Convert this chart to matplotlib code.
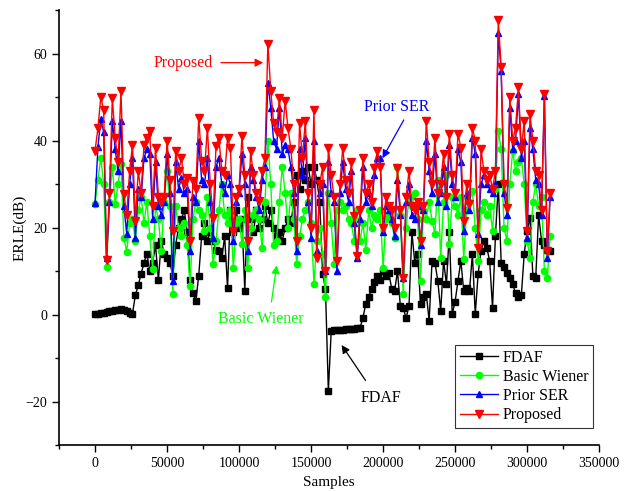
import numpy as np
import matplotlib
matplotlib.use('Agg')
from matplotlib import pyplot as plt
from matplotlib.ticker import MultipleLocator

# sample positions (one value every 2000 samples)
samples = np.arange(0, 318000, 2000)

fdaf = [0.2, 0.3, 0.4, 0.5, 0.6, 0.8, 0.9, 1.0, 1.2, 1.4,
        1.2, 0.8, 0.4, 0.3, 4.5, 6.8, 9.4, 12, 14, 10,
        12, 16, 8, 17, 14, 13, 12, 9, 16, 20,
        22, 24, 19, 8, 5, 3.2, 9, 18, 21, 17,
        19, 17, 15, 14.7, 13, 18, 6.2, 24, 19, 24,
        20, 22, 5.5, 27, 22, 19, 24, 20, 22, 25,
        21, 24, 20, 18, 19, 17, 20, 22, 21, 26,
        32, 29, 33, 31, 34, 30, 34, 31, 26, 9.4,
        6, -17.5, -3.6, -3.5, -3.5, -3.4, -3.4, -3.3, -3.3, -3.2,
        -3.2, -3.1, -3.0, -0.7, 2.5, 4, 6, 7.5, 9, 8,
        10, 9, 9.5, 6, 5.5, 10, 2, 1.5, -0.7, 2,
        19, 12, 14, 2.5, 4, 4.8, -1.4, 12.4, 12, 7.8,
        0.9, 12.4, 7, 19, 0.2, 3, 7.8, 12.4, 5.5, 6.2,
        5.5, 14, 0.2, 9.4, 14.7, 17, 15.4, 12.4, 1.6, 18,
        30, 12, 11, 9.5, 8.5, 7, 5, 4, 4.5, 14,
        19.3, 22.3, 9, 8.5, 23, 17, 16, 15, 14.7]

basic_wiener = [25.5, 31, 36, 30, 11, 26, 34, 25.5, 30, 34.7,
                17.7, 14.5, 21, 22, 17, 24, 27, 21, 26, 18,
                10.6, 25, 22, 14.7, 26, 33, 25, 4.8, 25, 20,
                18, 21, 16, 6.7, 22, 26, 24, 23, 19.3, 27,
                20, 11.7, 17, 24, 30, 23, 21, 24, 10.8, 21,
                22, 16.3, 24, 10.8, 20, 23, 24, 22, 15.4, 26,
                40, 30, 16, 17, 26, 34, 28, 20, 28, 22,
                11.7, 18, 22, 24, 26, 21, 7.1, 17, 20, 14,
                4, 28, 21, 11.7, 24, 26, 24, 25, 22, 21,
                17, 24, 17, 21, 15, 24, 20, 23, 22, 24,
                10.8, 22, 23, 21, 17.7, 34, 23, 4.8, 20, 27,
                25, 28, 22, 7.8, 24, 22, 26, 21.6, 18.6, 31,
                13, 26, 32, 16.3, 27, 25, 23, 27, 12.8, 24,
                26, 28.5, 20, 12.4, 24, 26, 23, 25, 19.3, 29,
                42.3, 38, 20, 17, 30, 37.7, 33, 35, 36, 30,
                17, 13, 26, 30, 25, 27, 10, 8.4, 18]

prior_ser = [25.7, 38.5, 45, 42, 13, 26, 44.6, 38, 33, 44.6,
             25, 18.6, 30, 36, 17.7, 29, 27, 36, 38, 37,
             22, 35, 25, 23, 26, 37, 28, 7.8, 35, 29,
             31.5, 28, 29, 14.7, 27, 26, 40, 31, 30, 36,
             26, 17.7, 34, 36, 30, 28, 32, 30, 17, 26,
             28, 37, 30, 14.7, 34, 31, 27, 24, 31, 34,
             53.3, 47.6, 40, 38, 47.6, 37, 39, 38, 34, 28,
             14.7, 38, 32, 40.7, 26, 17.7, 40, 14.7, 28, 30,
             10, 35, 28, 26, 10, 28, 35, 29, 26, 33,
             21, 13, 22, 34, 26, 28, 25, 32, 36, 36,
             19, 25, 24, 22, 18, 31, 23, 8.5, 26, 30,
             23, 22, 25, 16, 24, 40, 33, 28, 37, 26,
             28, 34, 25, 39, 30, 27, 38, 35, 19.3, 28,
             24, 40.7, 37, 18.6, 30, 32, 30, 29, 28, 30,
             64.6, 56, 28, 23, 47.6, 38, 40, 50.8, 36, 40,
             17.7, 43, 38, 31, 30, 23, 50.3, 13, 27]

proposed = [37.7, 42.8, 50, 47, 12.5, 28, 49.7, 40.7, 35, 51.5,
            27.8, 23, 33, 39, 21.6, 33, 28, 39, 40.7, 42.3,
            25, 38.4, 27, 26, 27, 40, 31, 19.3, 37.7, 33,
            36, 30, 31.5, 17, 30.8, 29, 45.3, 35.4, 33, 43,
            30, 22.3, 38.8, 40.7, 33, 32, 40.5, 38.4, 19.3, 27,
            29, 41, 32, 17, 37.7, 32, 28, 26.2, 33, 36,
            62.3, 51.5, 44, 42, 49.7, 40.7, 49.2, 42.8, 38, 30,
            17, 44, 36, 44.6, 28, 20, 47, 13, 30, 34,
            10.1, 38.4, 32, 27, 12.4, 30, 38.4, 31, 28, 35,
            22.8, 13.6, 24, 35.9, 28, 30, 26, 33.8, 37.7, 34,
            20, 27, 25, 24, 20, 33.6, 24, 8.5, 27, 33,
            25, 24, 26, 17, 25, 44.6, 35, 30, 40.7, 28,
            30, 37, 27, 41.6, 32, 28, 41.6, 38.4, 21.6, 30,
            25.5, 43, 40, 15.4, 38, 33, 31, 32, 29, 33,
            67.6, 56.8, 30, 24.6, 50, 40, 43, 52.2, 38, 44.6,
            19.3, 46, 40, 33, 32, 24, 50.8, 14.7, 28]

plt.rcParams['font.family'] = ['Liberation Serif', 'DejaVu Serif']

fig = plt.figure(figsize=(6.28, 4.91), dpi=100)
ax = fig.add_axes([0.094, 0.0927, 0.86, 0.887])

green = '#00ff00'
ax.plot(samples, fdaf, color='black', marker='s', markersize=4, lw=1, label='FDAF')
ax.plot(samples, basic_wiener, color=green, marker='o', markersize=4.5, lw=1, label='Basic Wiener')
ax.plot(samples, prior_ser, color='blue', marker='^', markersize=5, lw=1, label='Prior SER')
ax.plot(samples, proposed, color='red', marker='v', markersize=5.5, lw=1, label='Proposed')

ax.set_xlim(-25000, 350000)
ax.set_ylim(-30, 70)
ax.xaxis.set_major_locator(MultipleLocator(50000))
ax.xaxis.set_minor_locator(MultipleLocator(25000))
ax.yaxis.set_major_locator(MultipleLocator(20))
ax.yaxis.set_minor_locator(MultipleLocator(10))
ax.tick_params(which='both', direction='out', labelsize=10, width=1)
ax.tick_params(which='major', length=5)
ax.tick_params(which='minor', length=3)
ax.spines['top'].set_visible(False)
ax.spines['right'].set_visible(False)
ax.spines['left'].set_linewidth(1.2)
ax.spines['bottom'].set_linewidth(1.2)

ax.set_xlabel('Samples', fontsize=11, labelpad=4)
ax.set_ylabel('ERLE(dB)', fontsize=11, labelpad=-1)

# labels with arrows
ax.text(61000, 57.9, 'Proposed', color='red', fontsize=11.5, ha='center', va='center')
ax.annotate('', xy=(118700, 57.9), xytext=(85500, 57.9),
            arrowprops=dict(arrowstyle='-|>', color='red', lw=0.9, mutation_scale=12))
ax.text(209700, 47.8, 'Prior SER', color='blue', fontsize=11.5, ha='center', va='center')
ax.annotate('', xy=(198600, 35.4), xytext=(215300, 45.3),
            arrowprops=dict(arrowstyle='-|>', color='blue', lw=0.9, mutation_scale=12))
ax.text(115300, -0.9, 'Basic Wiener', color=green, fontsize=11.5, ha='center', va='center')
ax.annotate('', xy=(126400, 12), xytext=(122200, 2.3),
            arrowprops=dict(arrowstyle='-|>', color=green, lw=0.9, mutation_scale=12))
ax.text(198600, -19.1, 'FDAF', color='black', fontsize=11.5, ha='center', va='center')
ax.annotate('', xy=(170100, -6.4), xytext=(188900, -15.6),
            arrowprops=dict(arrowstyle='-|>', color='black', lw=0.9, mutation_scale=12))

leg = ax.legend(loc='lower right', bbox_to_anchor=(0.989, 0.04), borderaxespad=0,
                fontsize=11.5, numpoints=1, fancybox=False, edgecolor='black',
                handlelength=2.4, handletextpad=0.3, borderpad=0.3, labelspacing=0.2)
leg.get_frame().set_linewidth(0.8)

fig.savefig('out.png', dpi=100)
